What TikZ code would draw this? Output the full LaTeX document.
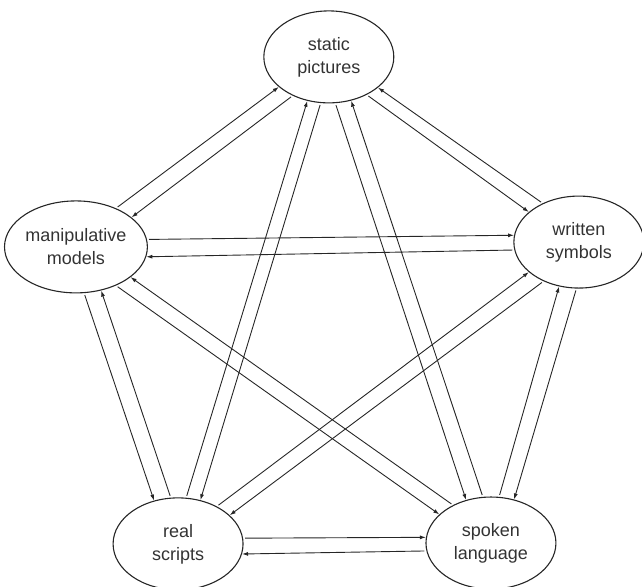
\documentclass[tikz,border=0pt]{standalone}
\usepackage{fontspec}
\setmainfont{Liberation Sans}
\usetikzlibrary{shapes.geometric}
\usetikzlibrary{arrows.meta}

\begin{document}
\begin{tikzpicture}[
  bubble/.style={draw=black!85, line width=1.1pt, ellipse, minimum width=130pt, minimum height=92pt, inner sep=0pt, align=center, text=black!80, font=\fontsize{18}{23}\selectfont},
  link/.style={draw=black!85, line width=0.9pt, -{Latex[length=6pt,width=4pt]}, shorten <=2pt}
]

\useasboundingbox (0,0) rectangle (22.57,-20.63);

\node[bubble] (pic) at (11.56,-2.00) {static\\pictures};

\node[bubble] (man) at (2.67,-8.68) {manipulative\\models};

\node[bubble] (wri) at (20.35,-8.51) {written\\symbols};

\node[bubble] (rea) at (6.26,-19.12) {real\\scripts};

\node[bubble] (spo) at (17.26,-19.09) {spoken\\language};


\draw[link] (man.44) -- (pic.211);
\draw[link] (pic.227) -- (man.28);
\draw[link] (wri.133) -- (pic.328);
\draw[link] (pic.315) -- (wri.149);
\draw[link] (man.6) -- (wri.174);
\draw[link] (wri.187) -- (man.352);
\draw[link] (man.280) -- (rea.119);
\draw[link] (rea.99) -- (man.300);
\draw[link] (spo.135) -- (man.331);
\draw[link] (man.316) -- (spo.151);
\draw[link] (rea.80) -- (pic.244);
\draw[link] (pic.260) -- (rea.63);
\draw[link] (pic.278) -- (spo.120);
\draw[link] (spo.100) -- (pic.297);
\draw[link] (rea.44) -- (wri.211);
\draw[link] (wri.228) -- (rea.29);
\draw[link] (spo.80) -- (wri.246);
\draw[link] (wri.267) -- (spo.62);
\draw[link] (rea.5) -- (spo.175);
\draw[link] (spo.187) -- (rea.351);


\end{tikzpicture}
\end{document}
